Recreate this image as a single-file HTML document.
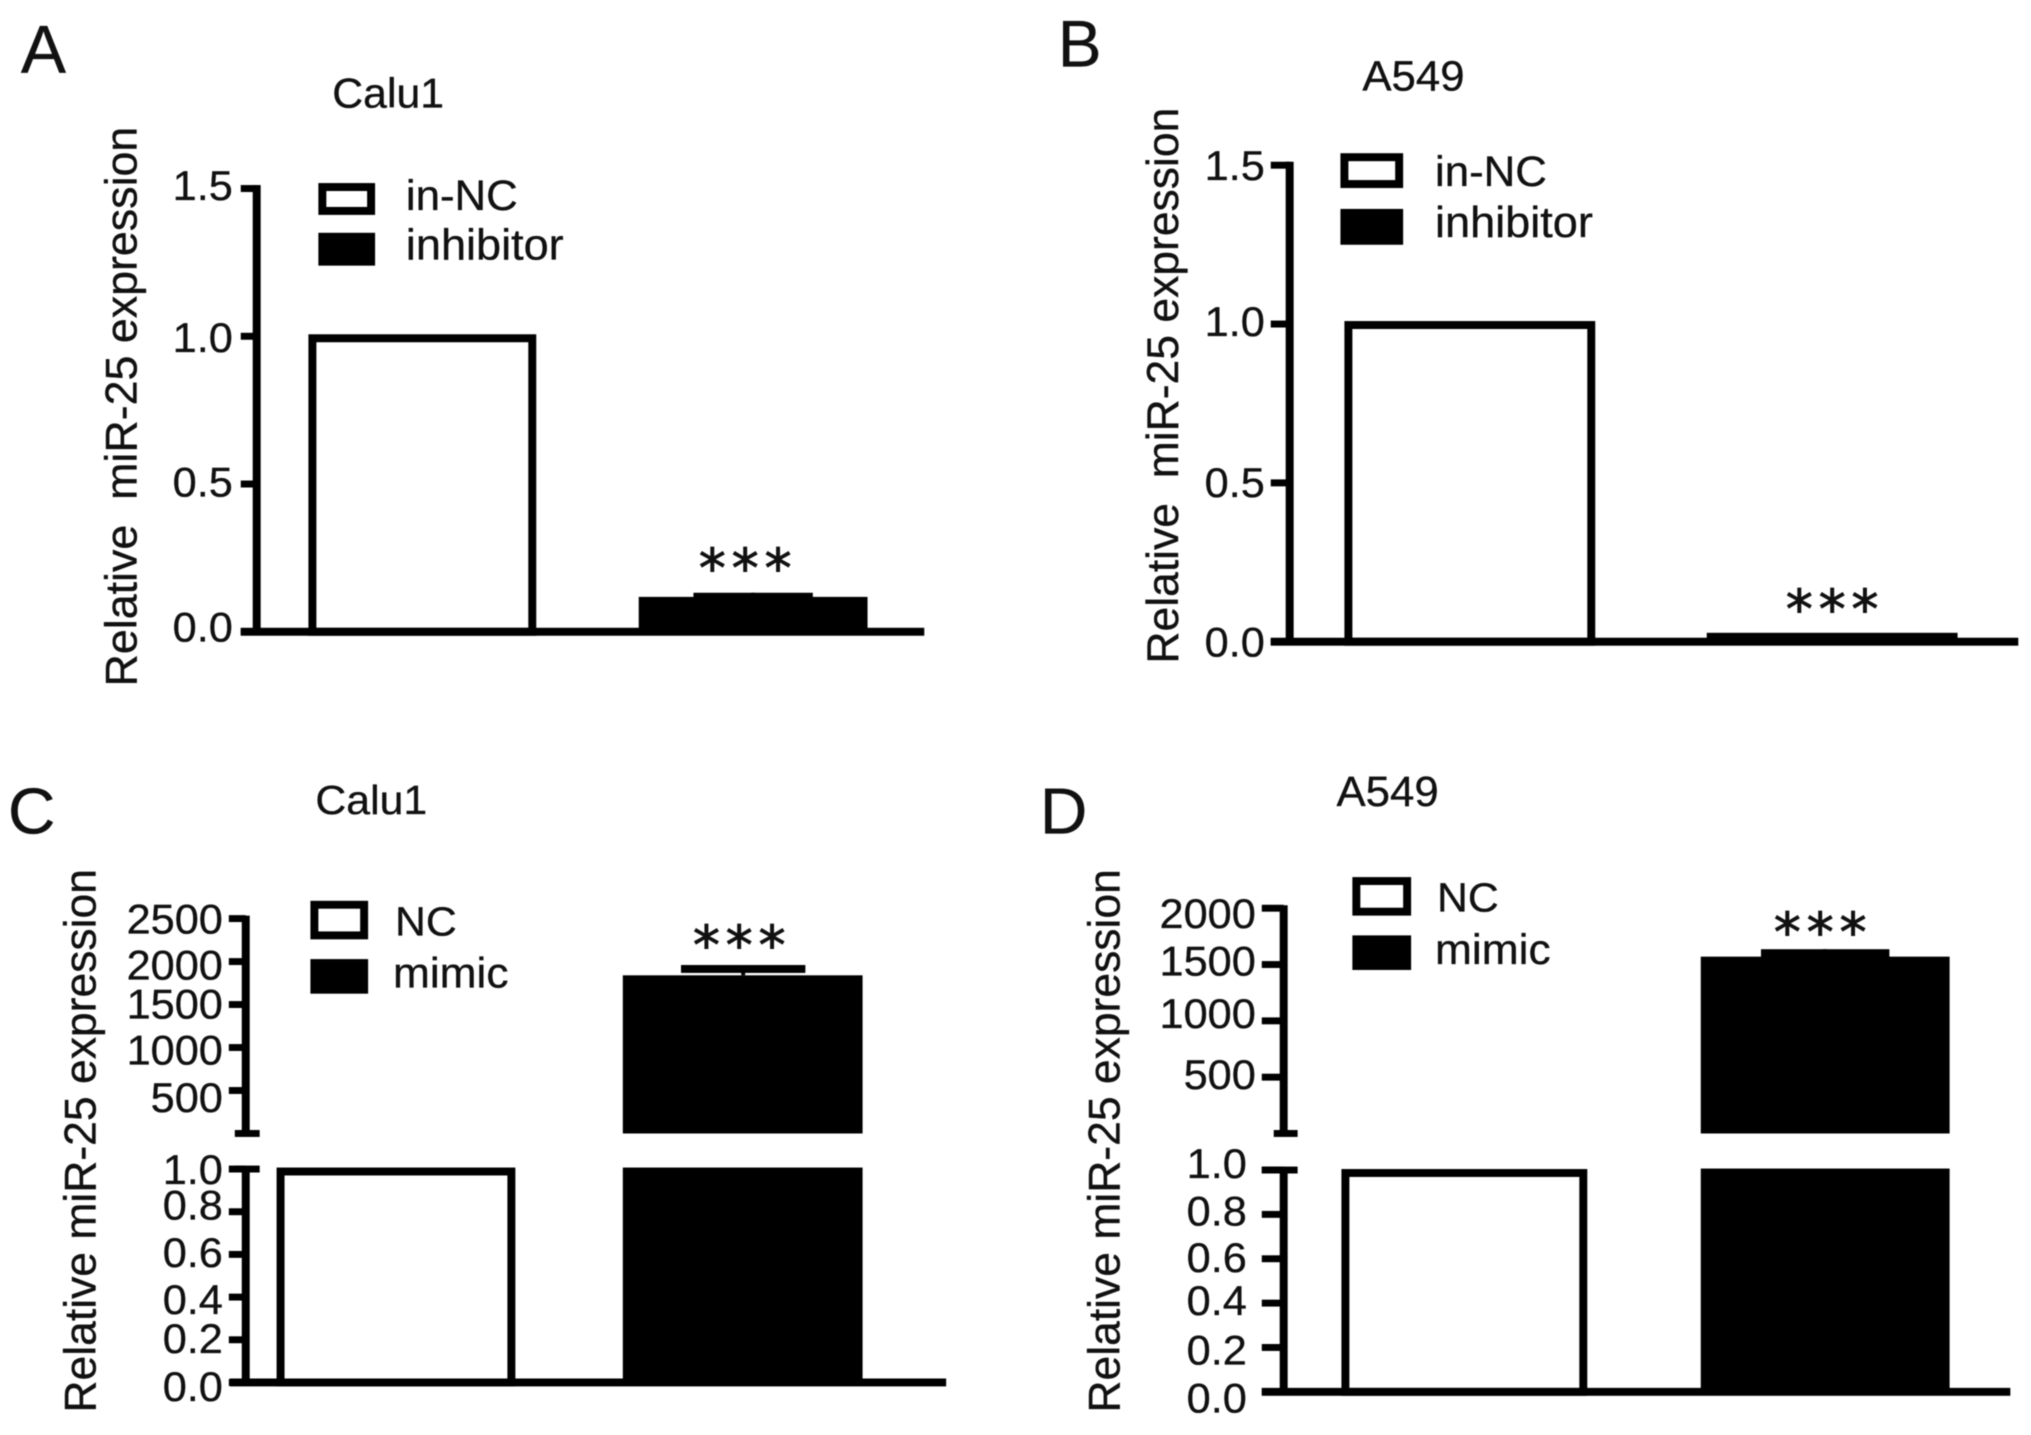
<!DOCTYPE html>
<html lang="en">
<head>
<meta charset="utf-8">
<title>Relative miR-25 expression</title>
<style>
html,body{margin:0;padding:0;background:#fff;}
body{width:2031px;height:1435px;overflow:hidden;}
svg{display:block;filter:blur(0.5px);}
text{font-family:"Liberation Sans",sans-serif;fill:#111;stroke:#111;stroke-width:0.35px;}
</style>
</head>
<body>
<svg id="figure" width="2031" height="1435" viewBox="0 0 2031 1435" xmlns="http://www.w3.org/2000/svg">
  <rect width="2031" height="1435" fill="#fff"/>

  <g id="panel-a" transform="scale(.9949,.9949)">
    <text x="21" y="73" font-size="68">A</text>
    <text transform="translate(334,108) scale(1,.97)" font-size="43">Calu1</text>
    <text transform="translate(137,690) rotate(-90)" font-size="45" xml:space="preserve">Relative  miR-25 expression</text>
    <rect x="324" y="188" width="49" height="24" fill="#fff" stroke="#000" stroke-width="8"/>
    <rect x="320" y="234" width="57" height="33" fill="#000"/>
    <text transform="translate(408,211) scale(1,.97)" font-size="44">in-NC</text>
    <text transform="translate(408,261) scale(1,.97)" font-size="45.3">inhibitor</text>
  </g>

  <g id="panel-b" transform="translate(1000,0) scale(.9954,.9949) translate(-1000,0)">
    <text x="1058" y="67" font-size="66">B</text>
    <text transform="translate(1364,91) scale(1,.97)" font-size="44">A549</text>
    <text transform="translate(1179,667) rotate(-90)" font-size="44.7" xml:space="preserve">Relative  miR-25 expression</text>
    <rect x="1346" y="158" width="55" height="27" fill="#fff" stroke="#000" stroke-width="8"/>
    <rect x="1342" y="210" width="63" height="36" fill="#000"/>
    <text transform="translate(1437,187) scale(1,.97)" font-size="44">in-NC</text>
    <text transform="translate(1437,238) scale(1,.97)" font-size="45.3">inhibitor</text>
  </g>

  <g id="panel-c" transform="translate(0,720) scale(.9949,.988) translate(0,-720)">
    <text x="8" y="835" font-size="66">C</text>
    <text transform="translate(317,815) scale(1,.97)" font-size="43">Calu1</text>
    <text transform="translate(96,1421) rotate(-90)" font-size="45">Relative miR-25 expression</text>
    <rect x="316" y="907" width="50" height="31" fill="#fff" stroke="#000" stroke-width="8"/>
    <rect x="312" y="962" width="58" height="35" fill="#000"/>
    <text transform="translate(397,938) scale(1,.97)" font-size="43">NC</text>
    <text transform="translate(395,991) scale(1,.97)" font-size="44.5">mimic</text>
  </g>

  <g id="panel-d" transform="translate(1000,720) scale(.9954,.988) translate(-1000,-720)">
    <text x="1040" y="835" font-size="66">D</text>
    <text transform="translate(1338,807) scale(1,.97)" font-size="44">A549</text>
    <text transform="translate(1120,1421) rotate(-90)" font-size="45">Relative miR-25 expression</text>
    <rect x="1358" y="883" width="51" height="31" fill="#fff" stroke="#000" stroke-width="8"/>
    <rect x="1354" y="938" width="59" height="35" fill="#000"/>
    <text transform="translate(1439,914) scale(1,.97)" font-size="43">NC</text>
    <text transform="translate(1437,967) scale(1,.97)" font-size="44.5">mimic</text>
  </g>
</svg>

<script>
// ---- chart data ----
const categoriesA = ['in-NC', 'inhibitor'];
const valuesA = [1.0, 0.118];
const errorsA = [0, 0.014];
const ticksA = [0, 0.5, 1.0, 1.5];
const tickLabelsA = ['0.0', '0.5', '1.0', '1.5'];

const categoriesB = ['in-NC', 'inhibitor'];
const valuesB = [1.0, 0.028];
const errorsB = [0, 0.003];
const ticksB = [0, 0.5, 1.0, 1.5];
const tickLabelsB = ['0.0', '0.5', '1.0', '1.5'];

const categoriesC = ['NC', 'mimic'];
const valuesC = [1.0, 1840];
const errorsC = [0, 120];
const lowerTicksC = [0, 0.2, 0.4, 0.6, 0.8, 1.0];
const lowerTickLabelsC = ['0.0', '0.2', '0.4', '0.6', '0.8', '1.0'];
const upperTicksC = [500, 1000, 1500, 2000, 2500];
const upperTickLabelsC = ['500', '1000', '1500', '2000', '2500'];

const categoriesD = ['NC', 'mimic'];
const valuesD = [1.0, 1570];
const errorsD = [0, 66];
const lowerTicksD = [0, 0.2, 0.4, 0.6, 0.8, 1.0];
const lowerTickLabelsD = ['0.0', '0.2', '0.4', '0.6', '0.8', '1.0'];
const upperTicksD = [500, 1000, 1500, 2000];
const upperTickLabelsD = ['500', '1000', '1500', '2000'];

const significanceMark = '***';

// ---- axis functions ----
const yA = v => 635 - v * 297;
const yB = v => 645 - v * 319.3;
const yLowerC = v => 1390.5 - v * 216;
const yUpperC = v => 1138.5 - v * 0.087;
const yLowerD = v => 1400 - v * 224.5;
const yUpperD = v => 1138.5 - v * 0.114;

// ---- drawing primitives ----
const NS = 'http://www.w3.org/2000/svg';
function box(parent, x, y, w, h, fill) {
  const el = document.createElementNS(NS, 'rect');
  el.setAttribute('x', x);
  el.setAttribute('y', y);
  el.setAttribute('width', w);
  el.setAttribute('height', Math.max(h, 0));
  el.setAttribute('fill', fill);
  parent.appendChild(el);
  return el;
}
function label(parent, x, y, str, size, sy, anchor) {
  const el = document.createElementNS(NS, 'text');
  el.setAttribute('transform', 'translate(' + x + ',' + y + ') scale(1,' + sy + ')');
  el.setAttribute('font-size', size);
  el.setAttribute('text-anchor', anchor);
  el.textContent = str;
  parent.appendChild(el);
  return el;
}
function stars(parent, name, cx, centerY) {
  const st = document.createElementNS(NS, 'text');
  st.setAttribute('x', cx);
  st.setAttribute('y', centerY + 28);
  st.setAttribute('text-anchor', 'middle');
  st.setAttribute('font-size', 54);
  st.setAttribute('letter-spacing', 6);
  st.setAttribute('style', 'font-family:"DejaVu Sans",sans-serif;stroke-width:1px');
  st.textContent = significanceMark;
  parent.appendChild(st);
  
  
}
function drawTicks(parent, ticks, labels, yFn, tickLeft, axisX, labelRight, nudges) {
  ticks.forEach((t, i) => {
    const tk = box(parent, tickLeft, yFn(t) - 3.5, axisX - tickLeft, 7, '#000');
    
    
    const lb = label(parent, labelRight, yFn(t) + nudges[i] + 15, labels[i], 43.5, 0.97, 'end');
    
    
  });
}
function drawOutlineBar(parent, name, x0, x1, topY, bottomY) {
  const el = document.createElementNS(NS, 'rect');
  el.setAttribute('x', x0 + 4);
  el.setAttribute('y', topY);
  el.setAttribute('width', x1 - x0 - 8);
  el.setAttribute('height', Math.max(bottomY - topY, 0));
  el.setAttribute('fill', '#fff');
  el.setAttribute('stroke', '#000');
  el.setAttribute('stroke-width', 8);
  parent.appendChild(el);
  
  
}
function drawError(parent, name, cx, capW, barTopY, errTopY) {
  const stem = box(parent, cx - 2, errTopY, 4, barTopY - errTopY, '#000');
  
  
  const cap = box(parent, cx - capW / 2, errTopY, capW, 8, '#000');
  
  
}

// ---- panel A ----
(function () {
  const g = document.getElementById('panel-a');
  drawOutlineBar(g, categoriesA[0], 310, 539, yA(valuesA[0]) + 2, yA(0));
  const top = yA(valuesA[1]);
  const b = box(g, 642, top, 230, yA(0) - top, '#000');
  
  
  drawError(g, categoriesA[1], 757, 120, top, yA(valuesA[1] + errorsA[1]));
  stars(g, categoriesA[1], 752, yA(valuesA[1] + errorsA[1]) - 34);
  const ax = box(g, 254, yA(1.5) - 3.5, 8, yA(0) - yA(1.5) + 4, '#000');
  
  
  const xa = box(g, 242, yA(0) - 4, 687, 8, '#000');
  
  
  drawTicks(g, ticksA, tickLabelsA, yA, 242, 258, 234, [-5, -2.5, 1, -3.5]);
})();

// ---- panel B ----
(function () {
  const g = document.getElementById('panel-b');
  drawOutlineBar(g, categoriesB[0], 1346, 1598, yB(valuesB[0]) + 1, yB(0));
  const top = yB(valuesB[1]);
  const b = box(g, 1710, top, 252, yB(0) - top, '#000');
  
  
  stars(g, categoriesB[1], 1839, yB(valuesB[1]) - 33);
  const ax = box(g, 1287, yB(1.5) - 3.5, 8, yB(0) - yB(1.5) + 4, '#000');
  
  
  const xa = box(g, 1272, yB(0) - 4, 751, 8, '#000');
  
  
  drawTicks(g, ticksB, tickLabelsB, yB, 1272, 1291, 1266, [0, -1, -3, 0]);
})();

// ---- panel C ----
(function () {
  const g = document.getElementById('panel-c');
  drawOutlineBar(g, categoriesC[0], 278, 518, yLowerC(valuesC[0]) + 2.5, yLowerC(0));
  const lowerTop = yLowerC(1) - 1.5;
  const lo = box(g, 626, lowerTop, 241, yLowerC(0) - lowerTop, '#000');
  
  
  const top = yUpperC(valuesC[1]);
  const up = box(g, 626, top, 241, yUpperC(0) - top, '#000');
  
  
  drawError(g, categoriesC[1], 747, 125, top, yUpperC(valuesC[1] + errorsC[1]));
  stars(g, categoriesC[1], 746, yUpperC(valuesC[1] + errorsC[1]) - 29);
  const au = box(g, 243, yUpperC(2500) - 3, 8, yUpperC(0) - yUpperC(2500) + 3, '#000');
  
  
  const al = box(g, 243, yLowerC(1) - 3, 8, yLowerC(0) - yLowerC(1) + 3, '#000');
  
  
  const xa = box(g, 231, yLowerC(0) - 4, 720, 8, '#000');
  
  
  const brk = box(g, 236, yUpperC(0) - 3.5, 25, 7, '#000');
  
  
  const brl = box(g, 236, yLowerC(1) - 3.5, 25, 7, '#000');
  
  
  drawTicks(g, upperTicksC, upperTickLabelsC, yUpperC, 230, 247, 224, [7, 2, -1, 3, 0]);
  drawTicks(g, lowerTicksC, lowerTickLabelsC, yLowerC, 230, 247, 224, [4, -1.6, 2, -2.5, -7, 0]);
})();

// ---- panel D ----
(function () {
  const g = document.getElementById('panel-d');
  drawOutlineBar(g, categoriesD[0], 1343, 1590, yLowerD(valuesD[0]) + 3, yLowerD(0));
  const lowerTop = yLowerD(1) - 1.5;
  const lo = box(g, 1704, lowerTop, 250, yLowerD(0) - lowerTop, '#000');
  
  
  const top = yUpperD(valuesD[1]);
  const up = box(g, 1704, top, 250, yUpperD(0) - top, '#000');
  
  
  drawError(g, categoriesD[1], 1829, 129, top, yUpperD(valuesD[1] + errorsD[1]));
  stars(g, categoriesD[1], 1827, yUpperD(valuesD[1] + errorsD[1]) - 26);
  const au = box(g, 1281, yUpperD(2000) - 3, 8, yUpperD(0) - yUpperD(2000) + 3, '#000');
  
  
  const al = box(g, 1281, yLowerD(1) - 3, 8, yLowerD(0) - yLowerD(1) + 3, '#000');
  
  
  const xa = box(g, 1263, yLowerD(0) - 4, 752, 8, '#000');
  
  
  const brk = box(g, 1275, yUpperD(0) - 3.5, 24, 7, '#000');
  
  
  const brl = box(g, 1263, yLowerD(1) - 3.5, 36, 7, '#000');
  
  
  drawTicks(g, upperTicksD, upperTickLabelsD, yUpperD, 1263, 1285, 1257, [-3, -8, -4, 5]);
  drawTicks(g, lowerTicksD, lowerTickLabelsD, yLowerD, 1263, 1285, 1248, [6, 2, -3, -1.5, -4, -7]);
})();
</script>
</body>
</html>
